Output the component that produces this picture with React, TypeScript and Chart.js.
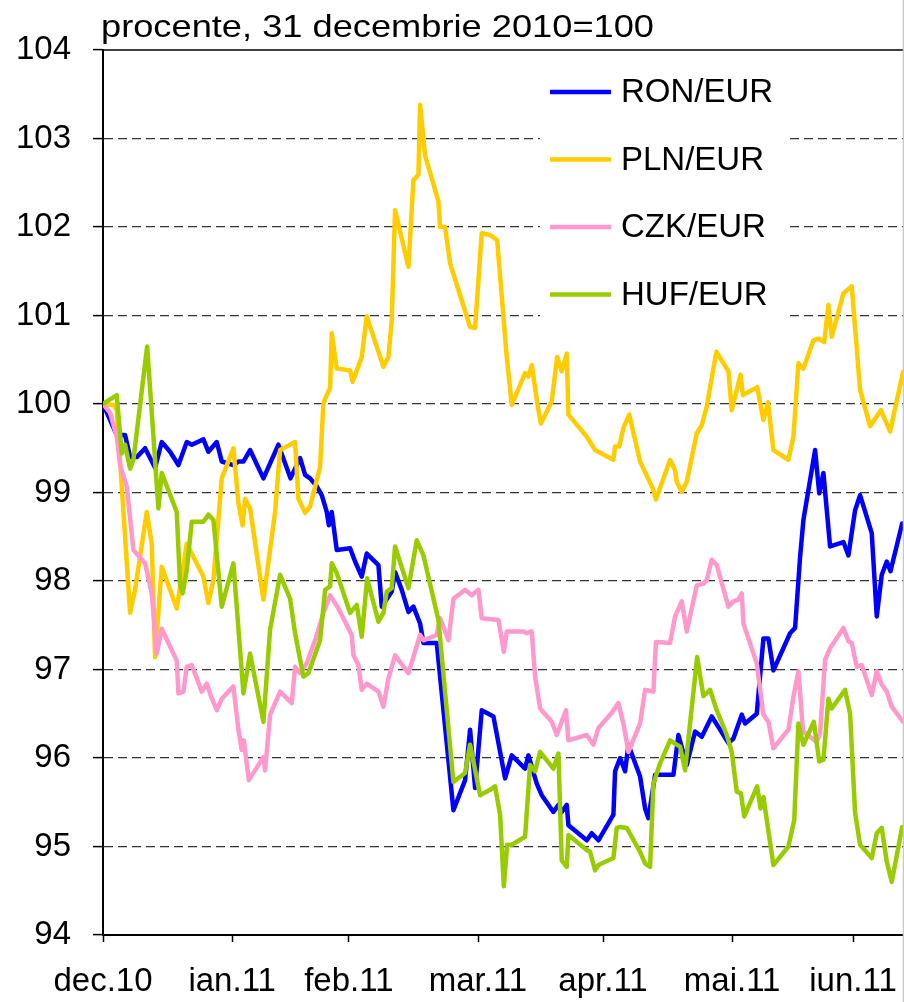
import React, { useEffect, useRef } from 'react';
import { Chart, registerables } from 'chart.js';

Chart.register(...registerables);

// ---- data (x = days since 31 Dec 2010, y = index, 31.12.2010 = 100) ----
const chartTitle = 'procente, 31 decembrie 2010=100';
const seriesNames = ['RON/EUR', 'PLN/EUR', 'CZK/EUR', 'HUF/EUR'];
const seriesColors = ['#0000FF', '#FFCC00', '#FF99CC', '#99CC00'];
const monthTickDays = [0, 31, 59, 90, 120, 151, 180];
const monthLabels = ['dec.10', 'ian.11', 'feb.11', 'mar.11', 'apr.11', 'mai.11', 'iun.11'];
const yMin = 94;
const yMax = 104;
const xMax = 192;

const ronEur = [[0,100],[3.3,99.65],[5.3,99.65],[6.5,99.4],[8.1,99.4],[10.1,99.5],[12.5,99.28],[14.1,99.57],[16.1,99.46],[18.1,99.31],[20.1,99.57],[21.3,99.54],[24.1,99.6],[25.3,99.46],[27.3,99.57],[28.5,99.35],[31.3,99.31],[32.5,99.35],[33.7,99.35],[35.3,99.48],[38.5,99.16],[42.1,99.54],[45,99.16],[47.3,99.39],[48.5,99.2],[49.7,99.16],[51.3,99.07],[52.5,98.97],[53.7,98.78],[54.2,98.63],[54.9,98.78],[56.1,98.35],[59.3,98.37],[60.5,98.22],[62.1,98.05],[63.3,98.31],[66.1,98.18],[66.9,97.71],[69.3,97.88],[70.1,98.1],[71.7,97.9],[73.3,97.65],[74.5,97.71],[76.1,97.52],[76.9,97.3],[80.1,97.3],[84.1,95.41],[86.9,95.75],[88.1,96.32],[89.3,95.66],[90.9,96.54],[93.7,96.47],[96.5,95.77],[98.1,96.03],[101.3,95.88],[102.1,96.03],[104.1,95.71],[105.3,95.58],[108.1,95.39],[109.3,95.47],[110.1,95.39],[111.3,95.47],[111.7,95.24],[116.1,95.07],[117.3,95.15],[118.9,95.07],[122.5,95.36],[122.9,95.85],[124.1,96.0],[125.3,95.85],[126.1,96.15],[128.9,95.79],[130.1,95.43],[130.9,95.32],[132.5,95.81],[136.9,95.81],[138.1,96.26],[140.1,95.92],[142.1,96.3],[143.7,96.24],[146.1,96.47],[150.1,96.17],[151.3,96.22],[153.3,96.49],[154.1,96.39],[156.9,96.5],[158.5,97.35],[159.7,97.35],[160.9,96.99],[164.9,97.41],[166.1,97.47],[167.3,98.27],[168.1,98.69],[170.9,99.48],[171.9,98.99],[172.9,99.22],[174.5,98.39],[177.7,98.44],[178.9,98.29],[180.5,98.8],[181.7,98.97],[184.5,98.54],[185.7,97.6],[186.9,98.07],[188.1,98.22],[189,98.11],[191.8,98.65]];

const plnEur = [[0,100],[2.5,99.99],[3.3,99.93],[6.5,97.64],[7.7,97.9],[10.5,98.78],[11.7,98.42],[12.5,97.14],[14.1,98.16],[17.7,97.69],[20.1,98.42],[24.1,98.05],[25.3,97.75],[26.5,98.01],[28.5,99.16],[31.3,99.5],[32.5,98.88],[33.5,98.63],[34.1,98.93],[35.3,98.82],[38.5,97.79],[41.3,98.78],[42.5,99.48],[46.1,99.57],[46.9,98.93],[48.5,98.77],[49.7,98.84],[52.1,99.29],[52.9,100.01],[53.7,100.1],[54.5,100.18],[54.9,100.8],[56.1,100.4],[59.3,100.38],[59.9,100.25],[62.1,100.53],[63.3,100.99],[67.3,100.42],[68.5,100.53],[69.3,100.95],[70.1,102.19],[73.3,101.55],[74.5,102.53],[75.7,102.59],[76.1,103.38],[77.3,102.81],[80.5,102.29],[80.9,102.0],[82.1,102.0],[83.3,101.59],[88.1,100.87],[89.3,100.86],[90.9,101.93],[92.9,101.91],[94.6,101.85],[96.9,100.53],[98.1,99.99],[101.3,100.35],[102.1,100.31],[102.9,100.44],[104.5,99.93],[105.1,99.78],[107.7,100.03],[109,100.53],[110.1,100.37],[111.3,100.57],[111.7,99.88],[116.1,99.63],[118.1,99.48],[122.5,99.37],[122.9,99.52],[123.9,99.52],[124.9,99.73],[126.3,99.88],[128.9,99.35],[132.1,99.03],[132.7,98.92],[136.1,99.37],[137.3,99.25],[137.7,99.12],[138.9,99.01],[140.1,99.12],[142.5,99.67],[143.7,99.76],[144.9,99.97],[147.2,100.59],[150.1,100.37],[150.9,99.93],[153,100.33],[153.6,100.1],[157,100.19],[158.5,99.82],[159.6,100.02],[160.9,99.48],[164.5,99.37],[165.7,99.63],[166.9,100.46],[168.1,100.4],[170.5,100.72],[171.7,100.74],[173.1,100.7],[174.1,101.12],[174.9,100.76],[177.7,101.25],[179.7,101.33],[181.7,100.16],[184.1,99.75],[186.7,99.93],[188.9,99.69],[192,100.36]];

const czkEur = [[0,100],[1.7,99.9],[3.3,99.63],[4.1,99.31],[5.7,99.07],[7.3,98.35],[10.1,98.2],[11.7,97.86],[12.9,97.18],[14.1,97.46],[17.7,97.1],[18.1,96.73],[19.3,96.75],[20.1,97.03],[21.3,97.05],[23.7,96.75],[24.9,96.84],[25.9,96.7],[27.3,96.54],[28.5,96.67],[31.3,96.81],[32.5,96.32],[33.3,96.09],[33.8,96.2],[35,95.75],[38.5,96.01],[38.9,95.86],[40.1,96.49],[42.5,96.75],[45.3,96.62],[46.1,97.03],[47.3,96.96],[48.9,97.07],[50.9,97.33],[52.9,97.64],[54.5,97.84],[56.5,97.69],[58.1,97.54],[59.7,97.39],[60.1,97.16],[61.3,97.05],[62.1,96.77],[63.3,96.84],[66.1,96.75],[67.3,96.58],[68.5,96.9],[70.1,97.16],[73.3,96.96],[76.1,97.39],[76.9,97.33],[80.1,97.39],[80.9,97.58],[82.9,97.33],[84.1,97.8],[86.9,97.9],[88.5,97.84],[90.1,97.9],[90.9,97.58],[94.9,97.56],[96.2,97.2],[96.9,97.43],[100.9,97.43],[101.7,97.41],[102.9,97.43],[103.7,96.92],[104.9,96.56],[107.7,96.41],[108.9,96.26],[111.1,96.54],[111.7,96.2],[116.1,96.26],[117.7,96.15],[118.9,96.34],[122.1,96.51],[123.7,96.62],[124.9,96.39],[126.1,96.07],[128.9,96.39],[130.1,96.77],[132.1,96.75],[132.7,97.31],[136.1,97.3],[137.3,97.6],[138.9,97.77],[140.1,97.43],[142.5,97.95],[144.1,97.97],[144.9,98.01],[146.1,98.24],[147.3,98.18],[150.1,97.71],[151.3,97.77],[152.5,97.79],[153.3,97.86],[153.7,97.52],[156.9,97.07],[158.5,96.49],[159.7,96.41],[160.9,96.11],[164.5,96.32],[165.7,96.69],[166.9,96.98],[168,96.3],[171.3,96.18],[172.1,96.28],[173.3,97.11],[174.5,97.24],[177.7,97.47],[178.9,97.32],[179.7,97.3],[180.9,97.03],[182.1,97.05],[184.5,96.71],[185.7,96.98],[186.9,96.83],[188.1,96.75],[189.3,96.58],[192,96.41]];

const hufEur = [[0,100],[3.3,100.1],[4.5,99.44],[5.3,99.54],[6.5,99.27],[7.3,99.37],[10.6,100.65],[13.3,98.82],[14.1,99.22],[17.7,98.78],[18.5,97.95],[19.1,97.86],[20.1,98.12],[21.3,98.67],[24.1,98.67],[25.3,98.75],[26.5,98.69],[28.5,97.71],[31.3,98.2],[33.7,96.73],[35.3,97.18],[38.5,96.41],[40.1,97.45],[42.5,98.07],[44.9,97.8],[46.1,97.41],[48.1,96.92],[49.3,96.96],[52.1,97.33],[53.3,97.9],[54.5,97.94],[54.9,98.2],[56.1,98.09],[59.3,97.64],[60.9,97.73],[62.1,97.37],[63.4,98.03],[66.1,97.54],[67.3,97.64],[68.1,97.88],[69.3,97.92],[70.1,98.39],[73.3,97.92],[75.3,98.46],[76.9,98.29],[80.5,97.56],[84.1,95.73],[86.9,95.83],[88.1,96.15],[90.5,95.58],[92.9,95.64],[94.1,95.68],[95.3,95.36],[96.2,94.55],[97,95.02],[98.1,95.02],[101.3,95.11],[102.5,95.92],[103.7,95.85],[104.9,96.07],[108.1,95.88],[109.3,96.05],[110.1,94.84],[111.3,94.77],[111.7,95.13],[116.1,94.96],[116.9,94.94],[118.1,94.73],[118.9,94.79],[122.5,94.87],[123.3,95.21],[124.1,95.22],[125.7,95.21],[128.9,94.94],[130.1,94.81],[131.3,94.77],[132.1,95.71],[133.7,95.94],[136.1,96.2],[137.7,96.15],[138.5,96.13],[139.7,95.86],[142.6,97.14],[144.1,96.7],[145.7,96.77],[147.3,96.54],[149.7,96.26],[150.9,96.07],[152.1,95.62],[153.1,95.6],[153.9,95.34],[157,95.68],[157.8,95.43],[158.5,95.56],[160.9,94.79],[164.5,95.0],[165.9,95.3],[166.9,96.39],[168.1,96.15],[170.6,96.41],[171.9,95.96],[172.9,95.98],[174.1,96.67],[174.9,96.56],[178.1,96.77],[179.3,96.5],[180.5,95.38],[181.7,95.02],[184.5,94.87],[185.7,95.15],[186.9,95.21],[188.1,94.83],[189.3,94.6],[191.8,95.22]];

const allSeries = [ronEur, plnEur, czkEur, hufEur];

const FONT = '"Liberation Sans", Arial, Helvetica, sans-serif';
const LINE_W = 4.5;

const decorPlugin = {
  id: 'decor',
  afterDraw(chart: any) {
    const ctx = chart.ctx as CanvasRenderingContext2D;
    const a = chart.chartArea;
    ctx.save();
    // solid top line at the maximum value
    ctx.strokeStyle = '#000';
    ctx.lineWidth = 1.5;
    ctx.beginPath();
    ctx.moveTo(a.left, a.top);
    ctx.lineTo(a.right, a.top);
    ctx.stroke();
    // light right border
    ctx.strokeStyle = '#c8c8c8';
    ctx.lineWidth = 1.5;
    ctx.beginPath();
    ctx.moveTo(903.5, 0);
    ctx.lineTo(903.5, chart.height);
    ctx.stroke();
    // title
    ctx.fillStyle = '#000';
    ctx.font = `32px ${FONT}`;
    ctx.textAlign = 'left';
    ctx.textBaseline = 'alphabetic';
    const w = ctx.measureText(chartTitle).width;
    ctx.save();
    ctx.translate(101, 37);
    ctx.scale(553 / w, 1);
    ctx.fillText(chartTitle, 0, 0);
    ctx.restore();
    // legend box (white, hides gridlines)
    ctx.fillStyle = '#fff';
    ctx.fillRect(540, 62, 250, 266);
    // legend entries
    ctx.font = `33px ${FONT}`;
    ctx.textBaseline = 'middle';
    const rowY = [92, 159.5, 227, 294.5];
    chart.data.datasets.forEach((ds: any, i: number) => {
      const y = rowY[i];
      ctx.strokeStyle = ds.borderColor;
      ctx.lineWidth = LINE_W;
      ctx.lineCap = 'butt';
      ctx.beginPath();
      ctx.moveTo(550, y);
      ctx.lineTo(611, y);
      ctx.stroke();
      ctx.fillStyle = '#000';
      ctx.fillText(ds.label, 621, y + 1);
    });
    ctx.restore();
  },
};

export default function App() {
  const ref = useRef<HTMLCanvasElement | null>(null);

  useEffect(() => {
    document.body.style.margin = '0';
    const canvas = ref.current;
    if (!canvas) return;
    Chart.defaults.font.family = FONT;
    const chart = new Chart(canvas, {
      type: 'line',
      data: {
        datasets: seriesNames.map((name, i) => ({
          label: name,
          data: allSeries[i].map(([x, y]) => ({ x, y })),
          borderColor: seriesColors[i],
          backgroundColor: seriesColors[i],
          borderWidth: LINE_W,
          pointRadius: 0,
          pointHoverRadius: 0,
          tension: 0,
          fill: false,
          borderJoinStyle: 'round' as const,
          borderCapStyle: 'round' as const,
          order: seriesNames.length - 1 - i,
        })),
      },
      options: {
        responsive: false,
        animation: false,
        devicePixelRatio: 1,
        events: [],
        layout: { padding: { top: 50, right: 1, bottom: 0, left: 0 } },
        plugins: {
          legend: { display: false },
          tooltip: { enabled: false },
          title: { display: false },
        },
        scales: {
          x: {
            type: 'linear',
            min: 0,
            max: xMax,
            afterBuildTicks: (s: any) => {
              s.ticks = monthTickDays.map((v) => ({ value: v }));
            },
            afterFit: (s: any) => {
              s.height = 67;
              s.paddingLeft = 0;
              s.paddingRight = 0;
            },
            ticks: {
              autoSkip: false,
              maxRotation: 0,
              minRotation: 0,
              padding: 20,
              color: '#000',
              font: { size: 33, family: FONT },
              callback: (_v: any, idx: number) => monthLabels[idx],
            },
            grid: {
              drawOnChartArea: false,
              drawTicks: true,
              tickLength: 7,
              tickColor: '#000',
              tickWidth: 1.5,
            },
            border: { display: true, color: '#000', width: 2 },
          },
          y: {
            type: 'linear',
            min: yMin,
            max: yMax,
            afterFit: (s: any) => {
              s.width = 103;
            },
            ticks: {
              stepSize: 1,
              padding: 22,
              color: '#000',
              font: { size: 33, family: FONT },
            },
            grid: {
              color: (c: any) =>
                c.tick && (c.tick.value === yMin || c.tick.value === yMax)
                  ? 'rgba(0,0,0,0)'
                  : '#333',
              lineWidth: 1.2,
              drawTicks: true,
              tickLength: 10,
              tickColor: '#000',
              tickWidth: 1.5,
              tickBorderDash: [],
            },
            border: { display: true, color: '#000', width: 2, dash: [9, 5] },
          },
        },
      },
      plugins: [decorPlugin],
    });
    return () => chart.destroy();
  }, []);

  return (
    <div style={{ position: 'fixed', left: 0, top: 0, width: 904, height: 1002, background: '#fff' }}>
      <canvas ref={ref} width={904} height={1002} style={{ width: 904, height: 1002, display: 'block' }} />
    </div>
  );
}
